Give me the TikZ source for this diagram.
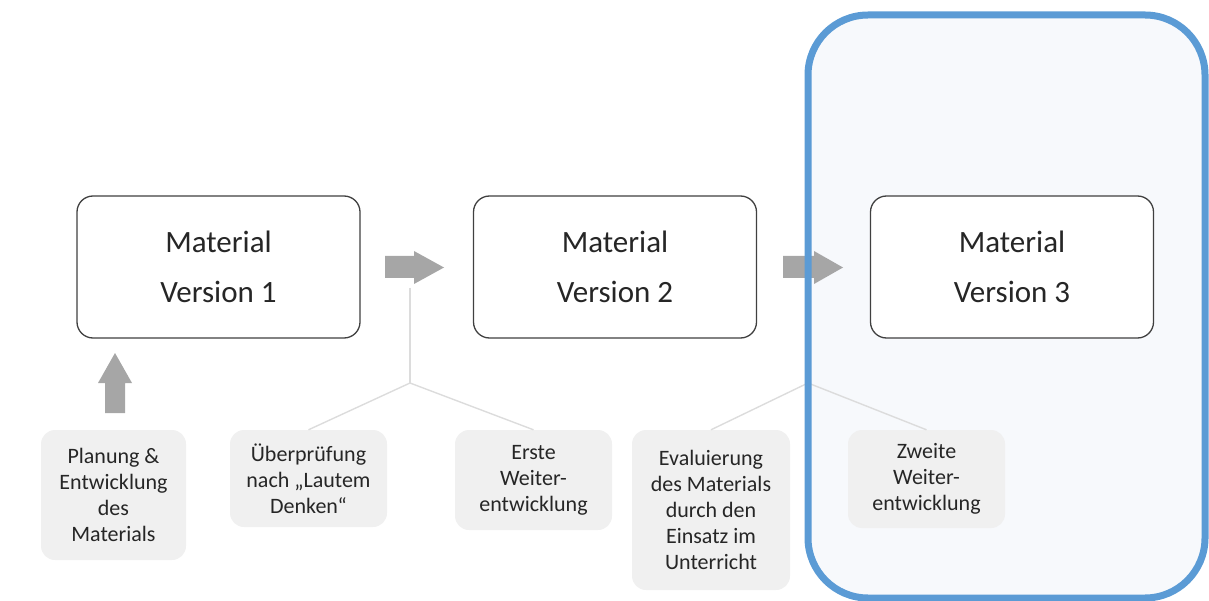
\documentclass[tikz,border=0pt]{standalone}
\usepackage{fontspec}
\setmainfont{Carlito}
\definecolor{bluebd}{HTML}{5B9BD5}
\definecolor{bluefill}{HTML}{F7F9FC}
\definecolor{arrowgray}{HTML}{A6A6A6}
\definecolor{boxgray}{HTML}{F0F0F0}
\definecolor{linegray}{HTML}{DCDCDC}
\definecolor{textc}{HTML}{262626}
\tikzset{
  mainbox/.style={draw=black!75, line width=1.3pt, rounded corners=16pt, fill=white,
    minimum width=283pt, minimum height=142pt, align=center, inner sep=0pt,
    font=\fontsize{31}{50}\selectfont, text=textc},
  notebox/.style={fill=boxgray, rounded corners=14pt, align=center, inner sep=0pt,
    font=\fontsize{22}{26}\selectfont, text=textc},
  fatarrow/.style={fill=arrowgray, draw=none},
  linker/.style={draw=linegray, line width=1.4pt},
}
\begin{document}
\begin{tikzpicture}[x=1pt,y=-1pt]
\useasboundingbox (0,0) rectangle (1209,601);
% phase-3 background
\fill[bluefill, rounded corners=60pt] (808,15) rectangle (1205,598);
% main boxes
\node[mainbox] (m1) at (218.5,267) {Material\\Version 1};
\node[mainbox] (m2) at (615,267) {Material\\Version 2};
\node[mainbox] (m3) at (1012,267) {Material\\Version 3};
% arrows between boxes
\fill[fatarrow] (385,256) -- (414,256) -- (414,251) -- (444,267.5) -- (414,284) -- (414,278) -- (385,278) -- cycle;
\fill[fatarrow] (783,256) -- (814,256) -- (814,251) -- (843,267.5) -- (814,284) -- (814,278) -- (783,278) -- cycle;
% note boxes
\node[notebox, minimum width=145pt, minimum height=130pt] (n1) at (113.5,495) {Planung \&\\Entwicklung\\des\\Materials};
\node[notebox, minimum width=157pt, minimum height=97pt] (n2) at (308.5,478.5) {Überprüfung\\nach „Lautem\\Denken“};
\node[notebox, minimum width=157pt, minimum height=100pt] (n3) at (533.5,480) {Erste\\Weiter-\\entwicklung};
\node[notebox, minimum width=158pt, minimum height=160pt] (n4) at (711,510) {Evaluierung\\des Materials\\durch den\\Einsatz im\\Unterricht};
\node[notebox, fill=black!6, minimum width=157pt, minimum height=98pt] (n5) at (926.5,479) {Zweite\\Weiter-\\entwicklung};
% up arrow
\fill[fatarrow] (105,413) -- (105,383) -- (98,383) -- (115,353) -- (132,383) -- (125,383) -- (125,413) -- cycle;
% connectors
\coordinate (a1) at (410,288);
\coordinate (j1) at (410,383);
\coordinate (j2) at (808,383);
\draw[linker] (a1) -- (j1);
\draw[linker] (j1) -- (n2.north);
\draw[linker] (j1) -- (n3.north);
\draw[linker] (j2) -- (n4.north);
\draw[linker] (j2) -- (n5.north);
% phase-3 frame
\draw[bluebd, line width=7pt, rounded corners=60pt] (808,15) rectangle (1205,598);
\end{tikzpicture}
\end{document}
